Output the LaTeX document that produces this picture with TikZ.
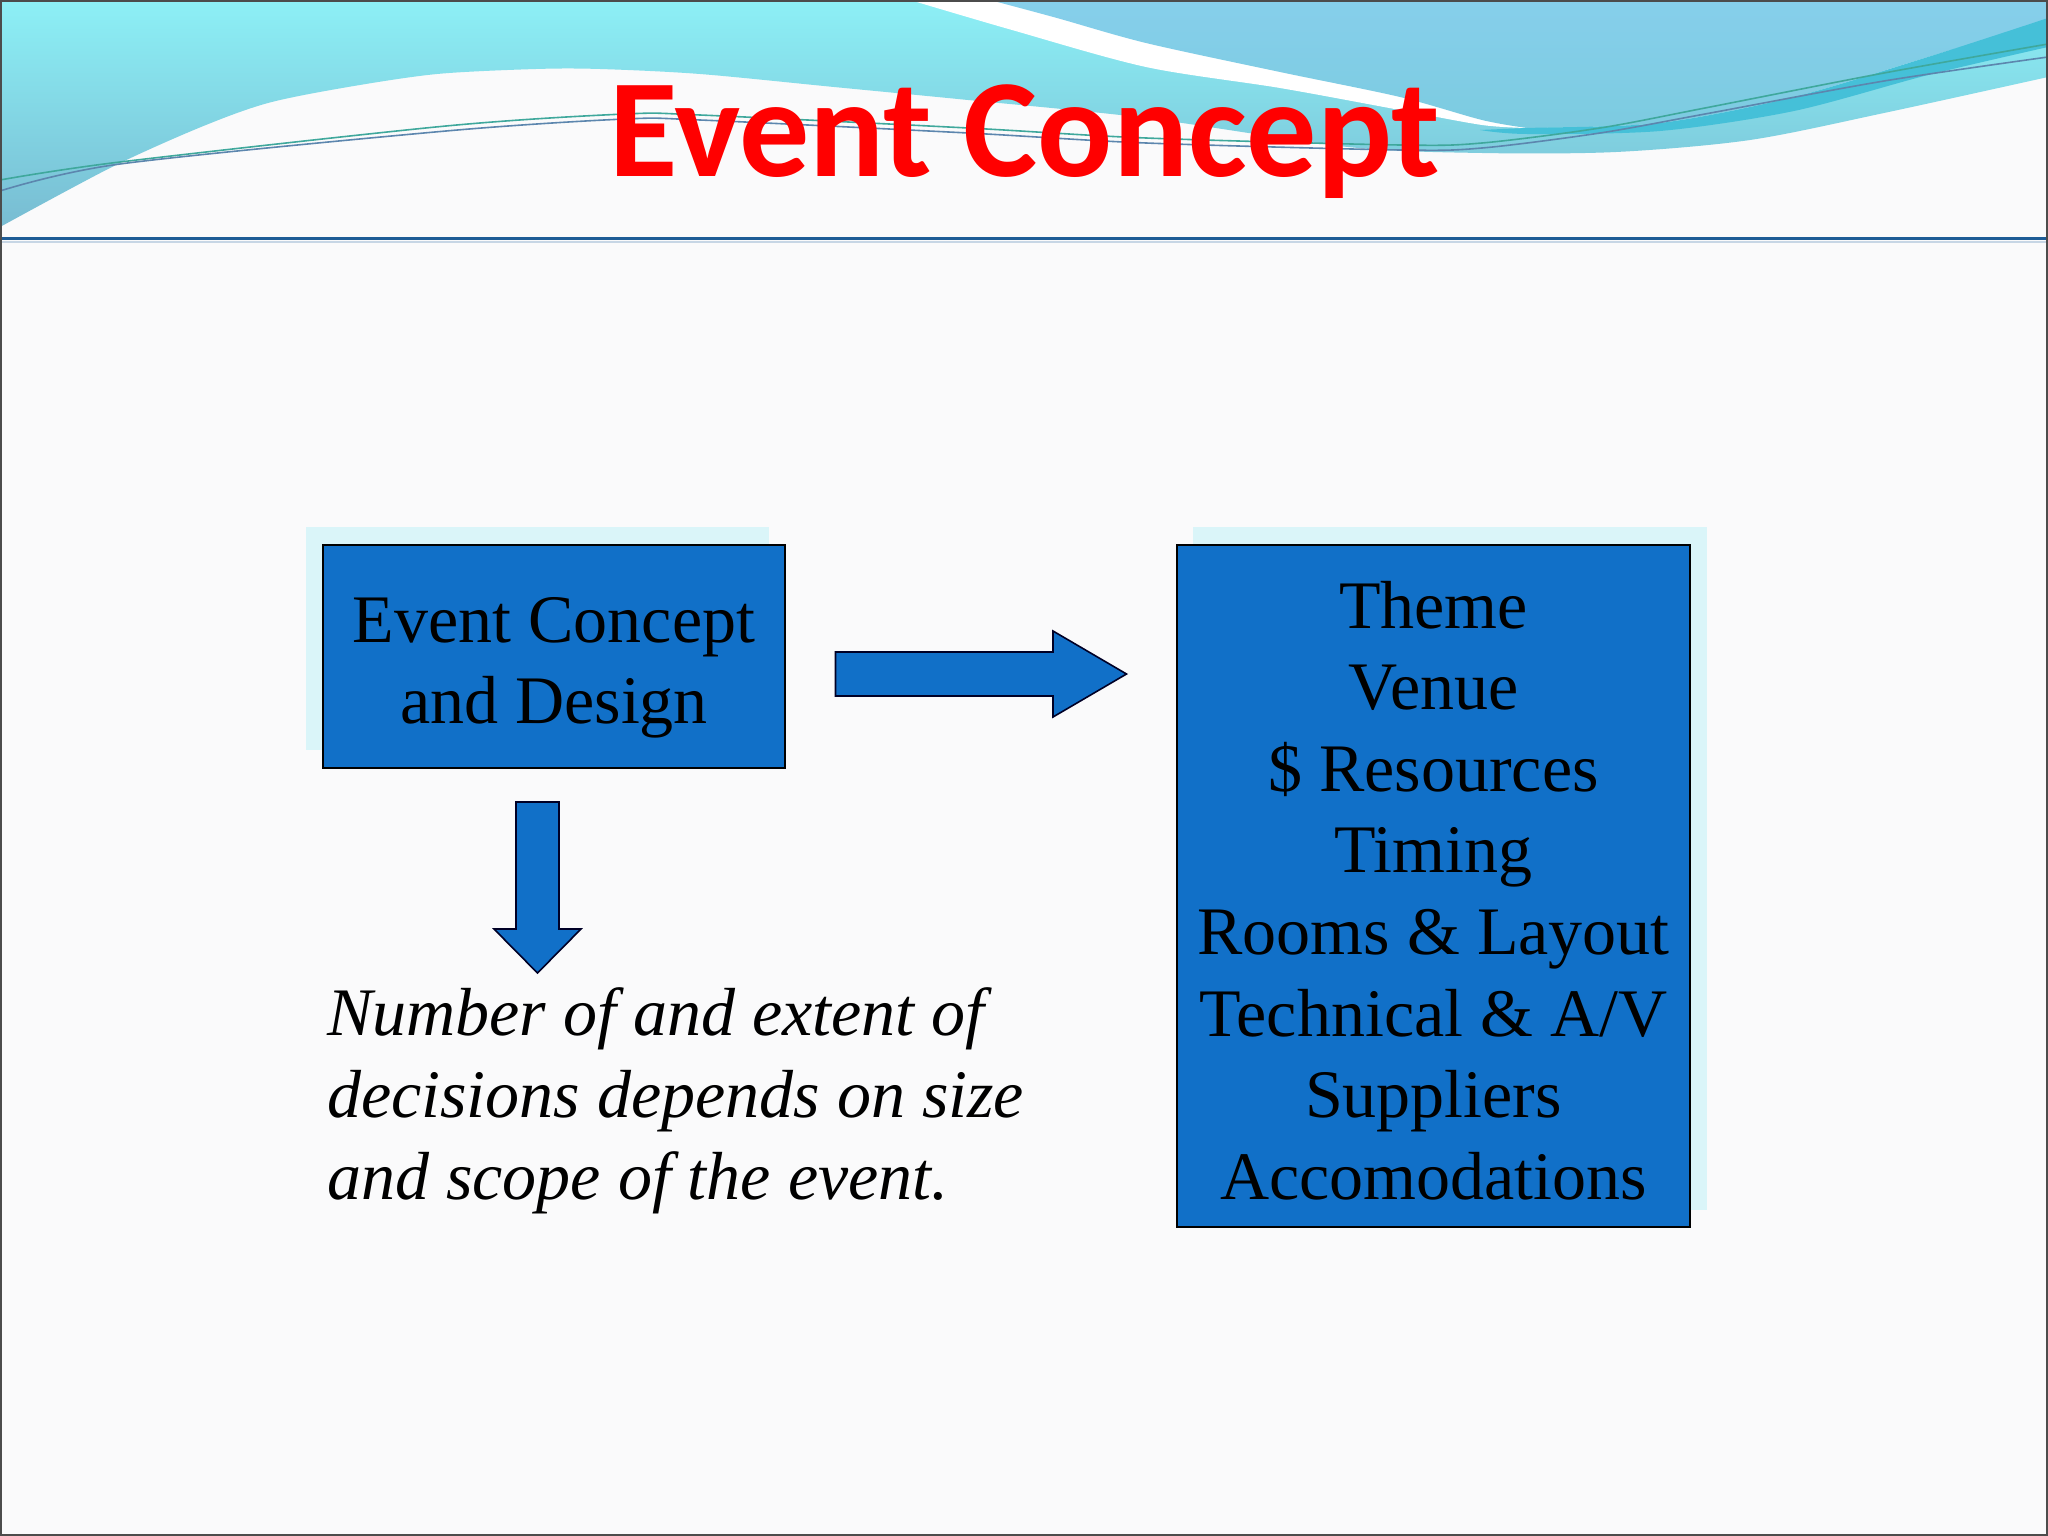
\documentclass[tikz,border=0pt]{standalone}
\usepackage{fontspec}
\setmainfont{Liberation Serif}
\newfontfamily\titlefont{Carlito}
\definecolor{bgc}{HTML}{FAFAFB}
\definecolor{boxblue}{HTML}{1170C8}
\definecolor{shadowc}{HTML}{DAF5F9}
\definecolor{cyantop}{HTML}{8DF0F6}
\definecolor{cyanbot}{HTML}{78BCD2}
\definecolor{skyblue}{HTML}{86CFEB}
\definecolor{skybot}{HTML}{7CCBE0}
\definecolor{tealband}{HTML}{45C0D8}
\definecolor{linegreen}{HTML}{3FA89C}
\definecolor{lineblue}{HTML}{5C86AE}
\definecolor{headline}{HTML}{1E5C96}
\definecolor{titlered}{HTML}{FF0000}
\tikzset{
  bluebox/.style={draw=black, line width=2pt, fill=boxblue, inner sep=0pt},
  shadowbox/.style={fill=shadowc, draw=none},
  blockarrow/.style={draw=black!85!blue, line width=1.6pt, fill=boxblue, line join=miter},
  boxtext/.style={font=\fontsize{68}{81.6}\selectfont, text=black, inner sep=0pt, anchor=base},
  notetext/.style={font=\fontsize{68}{81.6}\selectfont\itshape, text=black, inner sep=0pt, anchor=base west},
  wave/.style={line width=1.6pt}
}
\begin{document}
\begin{tikzpicture}[x=1pt,y=-1pt]
\useasboundingbox (0,0) rectangle (2048,1536);
\fill[bgc] (0,0) rectangle (2048,1536);
% header: cyan region
\shade[top color=cyantop, bottom color=cyanbot]
  (0,0) -- (2048,0) -- (2048,77)
  -- plot[smooth] coordinates {(2048,77) (1884,113) (1750,140) (1616,152) (1482,153) (1348,147) (1146,118) (968,100) (834,87) (700,74) (600,69) (536,69) (437,74) (348,87) (268,103) (201,127) (112,167) (0,227)}
  -- cycle;
% white strip
\fill[white]
  (910,0) -- (2048,0) -- (2048,20)
  -- plot[smooth] coordinates {(2048,20) (1928,57) (1794,97) (1660,123) (1527,128)}
  -- plot[smooth] coordinates {(1527,128) (1482,125) (1400,110) (1280,88) (1146,67) (1012,30) (910,0)}
  -- cycle;
% sky blue region
\shade[top color=skyblue, bottom color=skybot]
  (990,0) -- (2048,0) -- (2048,20)
  -- plot[smooth] coordinates {(2048,20) (1928,57) (1794,97) (1660,123) (1527,128)}
  -- plot[smooth] coordinates {(1527,128) (1482,120) (1400,97) (1280,72) (1146,43) (1057,18) (990,0)}
  -- cycle;
% teal band
\fill[tealband]
  plot[smooth] coordinates {(1480,130) (1527,128) (1660,123) (1794,97) (1928,57) (2048,18)}
  -- (2048,47)
  -- plot[smooth] coordinates {(2048,47) (1928,75) (1794,111) (1660,131) (1527,134) (1480,130)}
  -- cycle;
% thin wave lines
\draw[wave, linegreen] plot[smooth] coordinates {(0,180) (120,162) (446,126) (625,114) (700,115) (968,128) (1146,138) (1400,145) (1482,143) (1600,128) (1705,108) (1884,73) (2048,44)};
\draw[wave, lineblue] plot[smooth] coordinates {(0,191) (120,164) (446,131) (625,119) (700,120) (968,133) (1146,143) (1400,150) (1482,148) (1600,133) (1705,114) (1884,81) (2048,57)};
% header bottom rule
\draw[headline, line width=3pt] (0,238) -- (2048,238);
\draw[headline!25, line width=2pt] (0,242) -- (2048,242);
% title
\node[font=\titlefont\bfseries\fontsize{140}{168}\selectfont, text=titlered, anchor=base, inner sep=0pt] (title) at (1025,176) {Event Concept};
% left box
\fill[shadowbox] (306,527) rectangle (769,750);
\node[bluebox, minimum width=462pt, minimum height=223pt] (ecd) at (554,656.5) {};
\node[boxtext] (ecd1) at (554,642) {Event Concept};
\node[boxtext] (ecd2) at (554,723) {and Design};
% right box
\fill[shadowbox] (1193,527) rectangle (1707,1210);
\node[bluebox, minimum width=513pt, minimum height=682pt] (list) at (1433.5,886) {};
\foreach \t [count=\i from 0] in {Theme, Venue, \$ Resources, Timing, Rooms \& Layout, Technical \& A/V, Suppliers, Accomodations}{
  \node[boxtext] (item\i) at (1433.5,{628+81.6*\i}) {\t};
}
% block arrows
\coordinate (ra) at (835.5,674);
\coordinate (da) at (537.5,802);
\draw[blockarrow] (835.5,652) -- (1053,652) -- (1053,631) -- (1126.5,674) -- (1053,717) -- (1053,696) -- (835.5,696) -- cycle;
\draw[blockarrow] (516,802) -- (559,802) -- (559,929) -- (581,929) -- (537.5,973) -- (494,929) -- (516,929) -- cycle;
% note text
\node[notetext] (n1) at (327,1035) {Number of and extent of};
\node[notetext] (n2) at (327,1117) {decisions depends on size};
\node[notetext] (n3) at (327,1199) {and scope of the event.};
% slide border
\draw[black!70, line width=2pt] (1,1) rectangle (2047,1535);
\end{tikzpicture}
\end{document}
